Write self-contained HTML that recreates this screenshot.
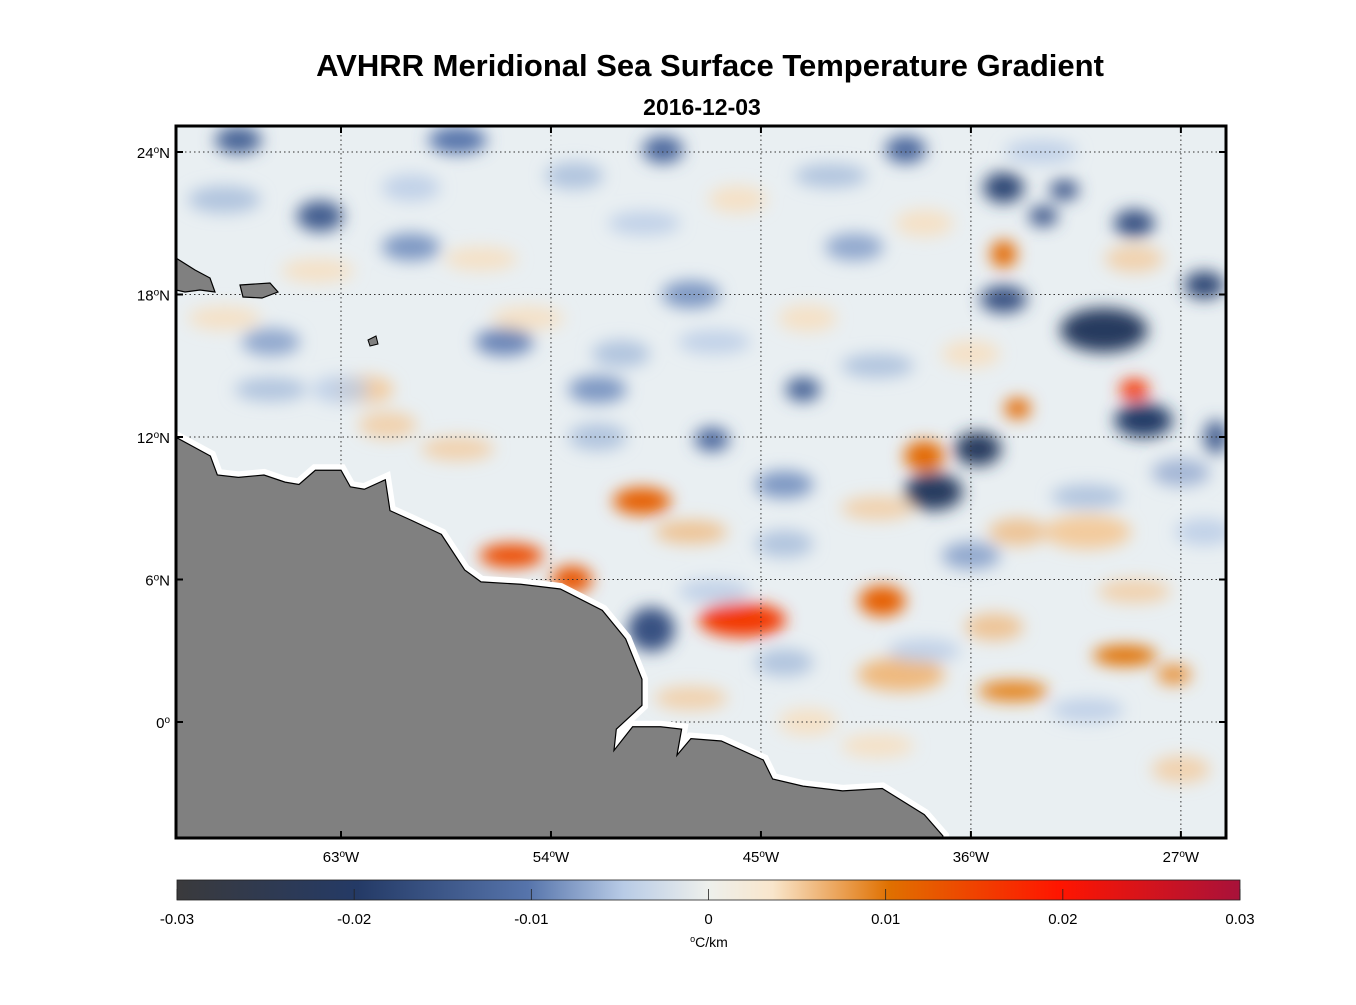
<!DOCTYPE html>
<html><head><meta charset="utf-8"><style>
body{margin:0;background:#fff;font-family:"Liberation Sans",sans-serif}
svg text{font-family:"Liberation Sans",sans-serif}
</style></head><body>
<svg id="chart" width="1356" height="1000" xmlns="http://www.w3.org/2000/svg">
<defs>
<filter id="blur" x="-50%" y="-50%" width="200%" height="200%"><feGaussianBlur stdDeviation="8"/></filter>
<clipPath id="frameclip"><rect x="176" y="126" width="1050" height="712"/></clipPath>
<linearGradient id="cmap" x1="0" x2="1" y1="0" y2="0">
<stop offset="0" stop-color="#3a3a3c"/><stop offset="0.17" stop-color="#243a66"/>
<stop offset="0.33" stop-color="#5674ab"/><stop offset="0.42" stop-color="#b8cbe6"/>
<stop offset="0.5" stop-color="#eef0ec"/><stop offset="0.56" stop-color="#f9e6cc"/>
<stop offset="0.67" stop-color="#e07000"/><stop offset="0.83" stop-color="#ff1500"/>
<stop offset="1" stop-color="#a8123a"/></linearGradient>
</defs>
<text x="710" y="76" text-anchor="middle" font-size="31" font-weight="bold">AVHRR Meridional Sea Surface Temperature Gradient</text>
<text x="702" y="115" text-anchor="middle" font-size="23" font-weight="bold">2016-12-03</text>
<g id="plot" clip-path="url(#frameclip)">
<rect x="176" y="126" width="1050" height="712" fill="#e9eff2"/>
<g id="blobs" filter="url(#blur)"></g>
<g id="grid"></g>
<path id="land" fill="#808080" stroke="#000" stroke-width="1.2"/>
<path d="M240,285 L270,283 L278,292 L262,298 L243,297 Z" fill="#808080" stroke="#000" stroke-width="1.2"/>
<path d="M176,258 L195,270 L210,278 L215,292 L200,290 L185,292 L176,290 Z" fill="#808080" stroke="#000" stroke-width="1.2"/>
<path d="M368,340 L376,336 L378,344 L370,346 Z" fill="#808080" stroke="#000"/>
</g>
<g id="axes"></g>
<rect x="176" y="126" width="1050" height="712" fill="none" stroke="#000" stroke-width="3"/>
<rect x="177" y="880" width="1063" height="20" fill="url(#cmap)" stroke="#222" stroke-width="0.8"/>
<g id="cbticks"></g>
<text x="709" y="947" text-anchor="middle" font-size="14"><tspan baseline-shift="super" font-size="9">o</tspan>C/km</text>
</svg>
<script>
const lonTicks=[-63,-54,-45,-36,-27];
const latTicks=[24,18,12,6,0];
const cbTicks=[-0.03,-0.02,-0.01,0,0.01,0.02,0.03];
const blobLon=[-30.3,-37.6,-35.7,-34.6,-28.6,-26,-34.6,-63.9,-67.4,-49.2,-38.8,-29,-43.2,-47.1,-49.7,-32.9,-32,-45.8,-50.1,-55.7,-53.1,-39.8,-38,-34.6,-29,-34,-34.2,-29.4,-27.3,-60,-56,-48,-41,-52,-66,-58,-44,-36,-25.5,-39,-31,-62,
 -68,-64,-60,-57,-53,-50,-46,-42,-38,-33,-29,-66,-61,-55,-51,-47,-43,-40,-36,-31,-27,-68,-63,-58,-52,-48,-44,-40,-34,-29,-26,-48,-44,-40,-35,-31,-27,-47,-43,-38,-33,-28];
const blobLat=[16.5,9.7,11.5,22.5,12.7,18.4,17.8,21.3,24.5,24.1,24.1,21,14,11.9,3.9,21.3,22.4,4.3,9.3,7,6,5.1,11.2,19.7,14,13.2,1.3,2.8,2,20,16,18,20,14,16,24.5,10,7,12,2,8,14,
 22,19,22.5,19.5,23,21,22,23,21,24,19.5,14,12.5,17,15.5,16,17,15,15.5,9.5,10.5,17,14,11.5,12,8,7.5,9,8,5.5,8,1,2.5,-1,4,0.5,-2,5.5,0,3,-3,-1];
const blobVal=[-0.022,-0.022,-0.022,-0.018,-0.02,-0.018,-0.016,-0.014,-0.013,-0.012,-0.012,-0.016,-0.013,-0.012,-0.016,-0.015,-0.015,0.016,0.012,0.014,0.013,0.012,0.011,0.011,0.017,0.011,0.009,0.01,0.008,-0.008,-0.009,-0.008,-0.007,-0.008,-0.007,-0.01,-0.008,-0.007,-0.014,0.006,0.005,0.005,
 -0.006,0.004,-0.005,0.004,-0.006,-0.005,0.004,-0.006,0.004,-0.005,0.005,-0.006,0.005,0.004,-0.006,-0.005,0.004,-0.006,0.004,-0.006,-0.007,0.004,-0.005,0.005,-0.006,0.006,-0.006,0.005,0.006,0.005,-0.005,0.005,-0.006,0.004,0.006,-0.005,0.005,-0.005,0.004,-0.005,0.005,-0.004];
const blobW=[3,2,1.6,1.4,2,1.4,1.6,1.6,1.6,1.4,1.4,1.4,1.2,1.2,1.6,1,1,3,2,2.2,1.4,1.6,1.4,0.9,1,0.9,2.4,2.2,1.2,2,2,2,2,2,2,2,2,2,0.8,3,3,2,
 2.5,2.5,2,2.5,2,2.5,2,2.5,2,2.5,2,2.5,2,2.5,2,2.5,2,2.5,2,2.5,2,2.5,2,2.5,2,2.5,2,2.5,2,2.5,2,2.5,2,2.5,2,2.5,2,2.5,2,2.5];
const blobH=[1.3,1.1,1,0.9,1,0.8,0.8,0.9,0.8,0.8,0.8,0.8,0.7,0.7,1.3,0.6,0.6,1,0.8,0.7,0.8,0.9,0.9,0.8,0.6,0.6,0.6,0.6,0.6,0.8,0.8,0.8,0.8,0.8,0.8,0.8,0.8,0.8,1,1,1,0.8,
 0.8,0.7,0.8,0.7,0.8,0.7,0.8,0.7,0.8,0.7,0.8,0.7,0.8,0.7,0.8,0.7,0.8,0.7,0.8,0.7,0.8,0.7,0.8,0.7,0.8,0.7,0.8,0.7,0.8,0.7,0.8,0.7,0.8,0.7,0.8,0.7,0.8,0.7,0.8,0.7];
const landLon=[-70.1,-68.6,-68.3,-67.4,-66.3,-65.4,-64.8,-64.1,-63,-62.6,-62,-61.1,-60.9,-60,-58.7,-57.7,-57,-55.3,-53.6,-51.8,-50.8,-50.1,-50.1,-51.2,-51.3,-50.5,-49.3,-48.4,-48.6,-48,-46.7,-44.9,-44.5,-43.2,-41.5,-39.8,-38,-37.2,-37.2,-70.1];
const landLat=[12,11.2,10.4,10.3,10.4,10.1,10,10.6,10.6,9.9,9.8,10.2,8.9,8.5,7.9,6.4,5.9,5.8,5.6,4.7,3.5,1.8,0.7,-0.3,-1.2,-0.2,-0.2,-0.3,-1.4,-0.7,-0.8,-1.6,-2.4,-2.7,-2.9,-2.8,-3.9,-4.8,-5,-5];
const X=lon=>341+(lon+63)*23.33, Y=lat=>722-lat*23.75;
const NS="http://www.w3.org/2000/svg";
function mk(t,a,p){const e=document.createElementNS(NS,t);for(const k in a)e.setAttribute(k,a[k]);p.appendChild(e);return e;}
function col(v){const s=[[-0.03,[58,58,60]],[-0.02,[36,58,102]],[-0.01,[86,116,171]],[-0.005,[184,203,230]],[0,[233,239,242]],[0.0035,[249,230,204]],[0.01,[224,112,0]],[0.02,[255,21,0]],[0.03,[168,18,58]]];
for(let i=0;i<s.length-1;i++){if(v<=s[i+1][0]){const t=(v-s[i][0])/(s[i+1][0]-s[i][0]);const c=s[i][1].map((a,j)=>Math.round(a+(s[i+1][1][j]-a)*Math.max(0,t)));return`rgb(${c})`;}}return"rgb(168,18,58)";}
const bg=document.getElementById('blobs');
blobLon.forEach((lo,i)=>{const e=mk('ellipse',{cx:X(lo),cy:Y(blobLat[i]),rx:blobW[i]*23.3/1.6,ry:blobH[i]*23.75/1.4,fill:col(blobVal[i]),'fill-opacity':i>41?0.8:1},bg);

});
const g=document.getElementById('grid'),ax=document.getElementById('axes');
lonTicks.forEach(l=>{const e=mk('line',{x1:X(l),x2:X(l),y1:126,y2:838,stroke:'#333','stroke-dasharray':'1.5 3','stroke-width':1},g);


mk('line',{x1:X(l),x2:X(l),y1:126,y2:133,stroke:'#000','stroke-width':2},ax);
mk('line',{x1:X(l),x2:X(l),y1:831,y2:838,stroke:'#000','stroke-width':2},ax);
const t=mk('text',{x:X(l),y:862,'text-anchor':'middle','font-size':15},ax);


t.innerHTML=Math.abs(l)+'<tspan baseline-shift="super" font-size="10">o</tspan>W';});
latTicks.forEach(l=>{const e=mk('line',{x1:176,x2:1226,y1:Y(l),y2:Y(l),stroke:'#333','stroke-dasharray':'1.5 3','stroke-width':1},g);


mk('line',{x1:176,x2:183,y1:Y(l),y2:Y(l),stroke:'#000','stroke-width':2},ax);
mk('line',{x1:1219,x2:1226,y1:Y(l),y2:Y(l),stroke:'#000','stroke-width':2},ax);
const t=mk('text',{x:170,y:Y(l)+6,'text-anchor':'end','font-size':15},ax);


t.innerHTML=l+'<tspan baseline-shift="super" font-size="10">o</tspan>'+(l>0?'N':'');});
let d='';landLon.forEach((lo,i)=>{d+=(i?'L':'M')+X(lo)+','+Y(landLat[i]);});
const land=document.getElementById('land');land.setAttribute('d',d+'Z');
const buf=land.cloneNode();buf.setAttribute('fill','#fff');buf.setAttribute('stroke','#fff');buf.setAttribute('stroke-width','12');

land.parentNode.insertBefore(buf,land);
const cb=document.getElementById('cbticks');
cbTicks.forEach(v=>{const x=177+(v+0.03)/0.06*1063;
mk('line',{x1:x,x2:x,y1:889,y2:900,stroke:'#222','stroke-width':0.8},cb);
const t=mk('text',{x:x,y:924,'text-anchor':'middle','font-size':15},cb);


t.textContent=v===0?'0':v.toFixed(2);});
</script>
</body></html>
